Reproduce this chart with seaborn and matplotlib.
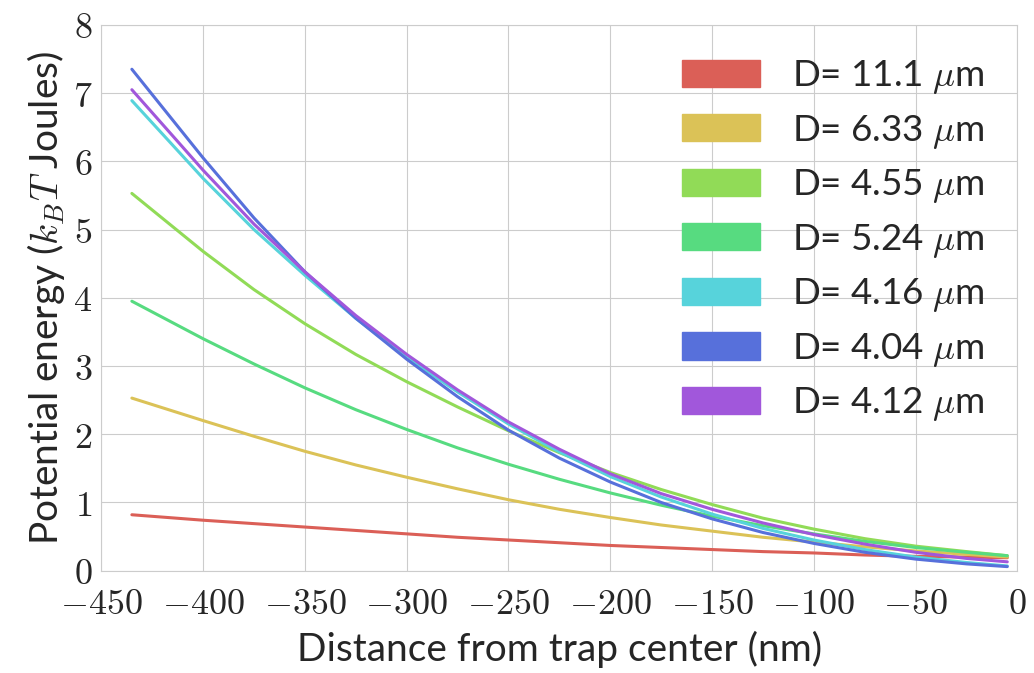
import numpy as np
import pandas as pd
import matplotlib
matplotlib.use("Agg")
import matplotlib.pyplot as plt
import seaborn as sns
from matplotlib.patches import Patch
from matplotlib.ticker import FuncFormatter

# distance from trap center (nm)
x_nm = [-435, -400, -375, -350, -325, -300, -275, -250, -225, -200,
        -175, -150, -125, -100, -75, -50, -25, -5]

# potential energy (k_B T) for each bead diameter
labels = ["11.1", "6.33", "4.55", "5.24", "4.16", "4.04", "4.12"]
u_111 = [0.82, 0.74, 0.69, 0.64, 0.59, 0.54, 0.49, 0.45, 0.41, 0.37,
         0.34, 0.31, 0.28, 0.26, 0.23, 0.21, 0.20, 0.19]
u_633 = [2.53, 2.20, 1.97, 1.75, 1.55, 1.37, 1.20, 1.04, 0.90, 0.78,
         0.67, 0.58, 0.49, 0.42, 0.35, 0.29, 0.24, 0.20]
u_455 = [5.53, 4.68, 4.12, 3.62, 3.17, 2.77, 2.40, 2.05, 1.73, 1.44,
         1.19, 0.97, 0.77, 0.61, 0.47, 0.36, 0.28, 0.22]
u_524 = [3.95, 3.40, 3.03, 2.68, 2.36, 2.07, 1.80, 1.56, 1.34, 1.14,
         0.96, 0.80, 0.66, 0.54, 0.43, 0.34, 0.27, 0.22]
u_416 = [6.89, 5.75, 5.00, 4.33, 3.70, 3.13, 2.62, 2.15, 1.74, 1.38,
         1.08, 0.83, 0.62, 0.45, 0.31, 0.20, 0.12, 0.07]
u_404 = [7.35, 6.05, 5.17, 4.38, 3.70, 3.10, 2.55, 2.06, 1.65, 1.30,
         1.00, 0.76, 0.56, 0.40, 0.27, 0.17, 0.10, 0.06]
u_412 = [7.05, 5.87, 5.08, 4.38, 3.74, 3.17, 2.65, 2.18, 1.78, 1.42,
         1.13, 0.90, 0.70, 0.53, 0.39, 0.27, 0.18, 0.13]
series = [u_111, u_633, u_455, u_524, u_416, u_404, u_412]

rows = []
for lab, vals in zip(labels, series):
    for xv, yv in zip(x_nm, vals):
        rows.append({"x": xv, "U": yv, "D": lab})
df = pd.DataFrame(rows)

sns.set_style("whitegrid")
plt.rcParams["font.family"] = ["Lato", "DejaVu Sans"]
plt.rcParams["mathtext.fontset"] = "cm"

# hls palette with 8 hues, first 7 used
colors = sns.color_palette("hls", 8)[:7]

fig, ax = plt.subplots(figsize=(10.34, 6.73), dpi=100)
sns.lineplot(data=df, x="x", y="U", hue="D", hue_order=labels,
             palette=colors, linewidth=2.2, legend=False, ax=ax)

ax.set_xlim(-450, 0)
ax.set_ylim(0, 8)
ax.set_xticks(range(-450, 1, 50))
ax.set_yticks(range(0, 9))
fmt = FuncFormatter(lambda v, p: r"$%d$" % v)
ax.xaxis.set_major_formatter(fmt)
ax.yaxis.set_major_formatter(fmt)
ax.tick_params(labelsize=26)
ax.tick_params(axis="x", pad=8)
ax.tick_params(axis="y", pad=3)
for t in ax.get_yticklabels():
    t.set_verticalalignment("center_baseline")

ax.set_xlabel("Distance from trap center (nm)", fontsize=28, labelpad=8)
ax.set_ylabel(r"Potential energy ($k_BT$ Joules)", fontsize=28, labelpad=4)

handles = [Patch(color=c, label=r"D= %s $\mu$m" % l) for c, l in zip(colors, labels)]
ax.legend(handles=handles, loc="upper right", frameon=False, fontsize=26.5,
          handlelength=2.12, handleheight=0.76, handletextpad=0.87,
          labelspacing=0.45, borderaxespad=0.5)

for s in ax.spines.values():
    s.set_color("#cccccc")

fig.subplots_adjust(left=0.098, right=0.984, top=0.963, bottom=0.152)
fig.savefig("out.png", dpi=100)
